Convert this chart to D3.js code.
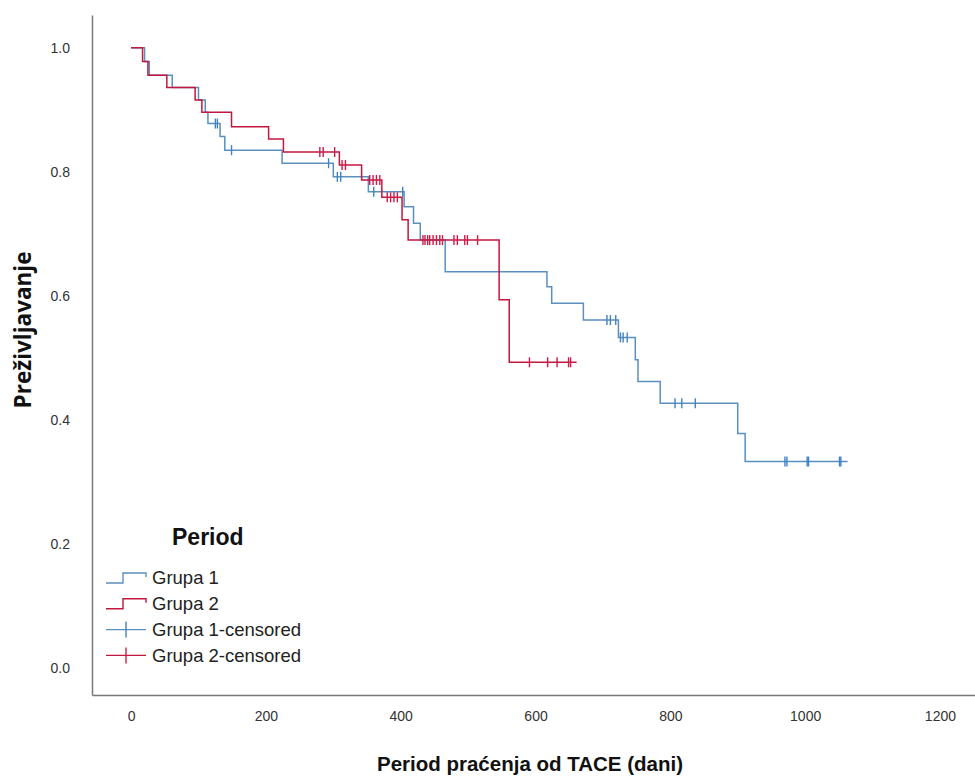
<!DOCTYPE html>
<html>
<head>
<meta charset="utf-8">
<script src="https://cdn.jsdelivr.net/npm/d3@7"></script>
<style>
body { margin: 0; background: #fff; }
</style>
</head>
<body>
<div id="chart"></div>
<script>
var width = 975, height = 777;

// Grupa 1: step times and survival after each step
var timesG1 = [0, 20, 27, 61, 100, 110, 114, 132, 139, 224, 300, 352, 405, 419, 429, 466, 617, 624, 671, 723, 748, 752, 785, 900, 911];
var survG1  = [1.0, 0.978, 0.956, 0.936, 0.916, 0.896, 0.878, 0.857, 0.835, 0.814, 0.792, 0.768, 0.744, 0.717, 0.690, 0.639, 0.615, 0.588, 0.561, 0.533, 0.497, 0.462, 0.427, 0.378, 0.333];
var endG1 = 1063;
var censG1 = [125, 128, 149, 293, 306, 311, 360, 403, 706, 711, 719, 726, 730, 736, 807, 817, 837, 970, 973, 1003, 1005, 1051, 1053];

// Grupa 2
var timesG2 = [0, 17, 25, 53, 95, 105, 149, 204, 226, 309, 342, 372, 402, 411, 546, 561];
var survG2  = [1.0, 0.978, 0.956, 0.936, 0.916, 0.896, 0.873, 0.853, 0.832, 0.811, 0.787, 0.759, 0.723, 0.690, 0.594, 0.493];
var endG2 = 661;
var censG2 = [280, 285, 302, 313, 318, 354, 359, 364, 369, 380, 385, 390, 395, 433, 436, 440, 443, 448, 453, 458, 462, 479, 484, 495, 499, 514, 591, 618, 632, 649, 652];

var xTicks = [0, 200, 400, 600, 800, 1000, 1200];
var yTicks = [0, 0.2, 0.4, 0.6, 0.8, 1.0];
var groups = ["Grupa 1", "Grupa 2"];
var colors = ["#5b8fbd", "#c2173f"];
var censColors = ["#3f83c6", "#d11a48"];

var svg = d3.select('#chart').append('svg')
    .attr('width', width)
    .attr('height', height)
    .style('font-family', 'Arial, "Liberation Sans", sans-serif');

var x = d3.scaleLinear().domain([-58, 1252]).range([92, 975]);
var y = d3.scaleLinear().domain([-0.0435, 1.053]).range([695, 15]);

var xAxis = svg.append('g')
    .attr('transform', 'translate(0,695)')
    .call(d3.axisBottom(x).tickValues(xTicks).tickSize(0).tickPadding(16).tickFormat(d3.format('d')));
var yAxis = svg.append('g')
    .attr('transform', 'translate(92,0)')
    .call(d3.axisLeft(y).tickValues(yTicks).tickSize(0).tickPadding(22).tickFormat(d3.format('.1f')));

[xAxis, yAxis].forEach(function(a) {
    a.select('.domain').attr('stroke', '#777').attr('stroke-width', 1.5);
    a.selectAll('text')
        .attr('fill', '#333')
        .style('font-family', '"Liberation Sans Narrow", Arial, sans-serif')
        .style('font-size', '14px');
});

// axis titles
svg.append('text')
    .attr('x', 530).attr('y', 771)
    .attr('text-anchor', 'middle')
    .style('font-size', '20.5px').style('font-weight', 'bold')
    .attr('fill', '#111')
    .text('Period praćenja od TACE (dani)');

svg.append('text')
    .attr('transform', 'translate(31,330) rotate(-90)')
    .attr('text-anchor', 'middle')
    .style('font-family', '"Open Sans", "Noto Sans", sans-serif')
    .style('font-size', '22.5px').style('font-weight', 'bold')
    .attr('fill', '#111')
    .text('Preživljavanje');

// survival step curves
var line = d3.line()
    .x(function(d) { return x(d[0]); })
    .y(function(d) { return y(d[1]); })
    .curve(d3.curveStepAfter);

function survAt(times, surv, t) {
    var s = surv[0];
    for (var i = 0; i < times.length; i++) if (times[i] <= t) s = surv[i];
    return s;
}

var series = [
    {times: timesG1, surv: survG1, end: endG1, cens: censG1},
    {times: timesG2, surv: survG2, end: endG2, cens: censG2}
];

series.forEach(function(sr, k) {
    var pts = sr.times.map(function(t, i) { return [t, sr.surv[i]]; });
    pts.push([sr.end, sr.surv[sr.surv.length - 1]]);
    svg.append('path')
        .datum(pts)
        .attr('fill', 'none')
        .attr('stroke', colors[k])
        .attr('stroke-width', 1.5)
        .attr('d', line);
});

series.forEach(function(sr, k) {
    svg.append('g').selectAll('line')
        .data(sr.cens)
        .enter().append('line')
        .attr('x1', function(d) { return x(d); })
        .attr('x2', function(d) { return x(d); })
        .attr('y1', function(d) { return y(survAt(sr.times, sr.surv, d)) - 5; })
        .attr('y2', function(d) { return y(survAt(sr.times, sr.surv, d)) + 5; })
        .attr('stroke', censColors[k])
        .attr('stroke-width', 1.4);
});

// legend
var lg = svg.append('g');
lg.append('text')
    .attr('x', 172).attr('y', 545)
    .style('font-size', '23px').style('font-weight', 'bold')
    .attr('fill', '#111')
    .text('Period');

var legendItems = [
    {label: 'Grupa 1', type: 'step', k: 0},
    {label: 'Grupa 2', type: 'step', k: 1},
    {label: 'Grupa 1-censored', type: 'cens', k: 0},
    {label: 'Grupa 2-censored', type: 'cens', k: 1}
];

legendItems.forEach(function(it, i) {
    var cy = 578 + i * 25.8;
    if (it.type === 'step') {
        lg.append('path')
            .attr('d', 'M106,' + (cy + 5) + 'H123V' + (cy - 5) + 'H146V' + (cy - 1))
            .attr('fill', 'none')
            .attr('stroke', colors[it.k])
            .attr('stroke-width', 1.4);
    } else {
        lg.append('line')
            .attr('x1', 106).attr('x2', 146).attr('y1', cy).attr('y2', cy)
            .attr('stroke', colors[it.k]).attr('stroke-width', 1.4);
        lg.append('line')
            .attr('x1', 126).attr('x2', 126).attr('y1', cy - 8).attr('y2', cy + 8)
            .attr('stroke', censColors[it.k]).attr('stroke-width', 1.4);
    }
    lg.append('text')
        .attr('x', 152).attr('y', cy)
        .attr('dy', '0.35em')
        .style('font-size', '18.5px')
        .attr('fill', '#222')
        .text(it.label);
});
</script>
</body>
</html>
